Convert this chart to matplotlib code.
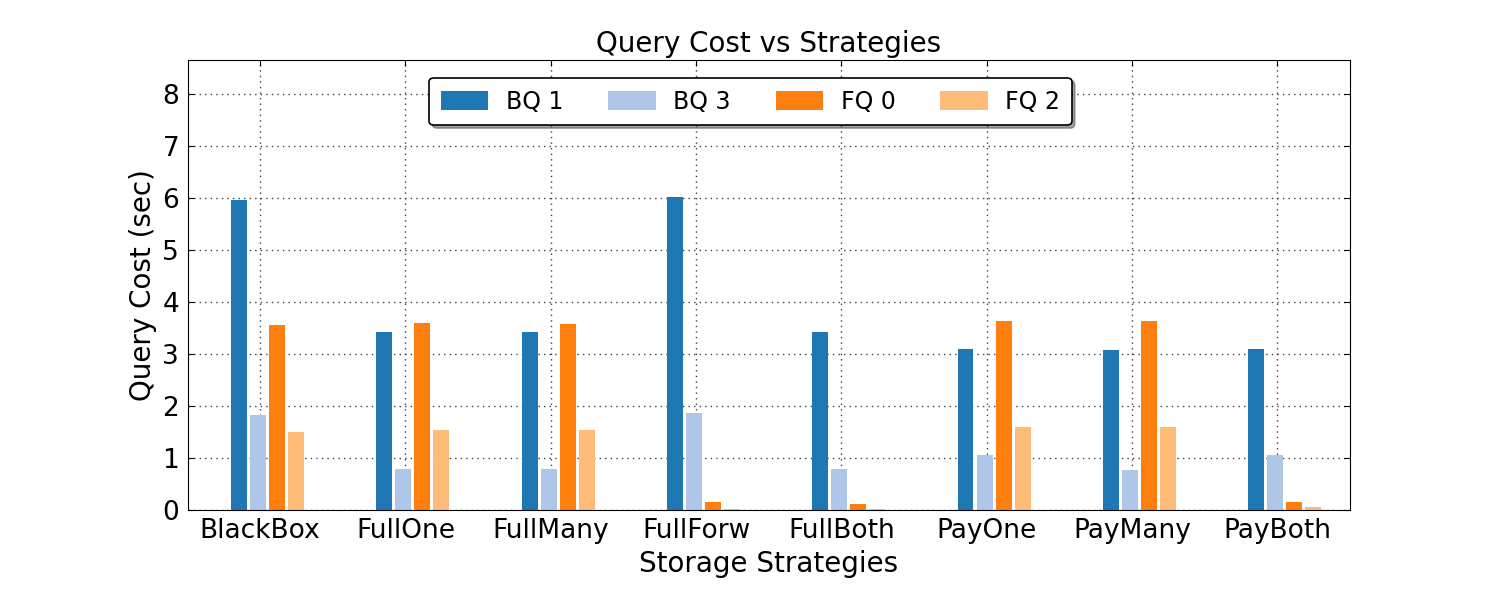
import numpy as np
import matplotlib.pyplot as plt

strategies = ['BlackBox', 'FullOne', 'FullMany', 'FullForw', 'FullBoth', 'PayOne', 'PayMany', 'PayBoth']
series = ['BQ 1', 'BQ 3', 'FQ 0', 'FQ 2']
bq1 = [5.96, 3.42, 3.42, 6.02, 3.42, 3.10, 3.08, 3.10]
bq3 = [1.83, 0.79, 0.79, 1.87, 0.79, 1.06, 0.77, 1.06]
fq0 = [3.56, 3.60, 3.58, 0.16, 0.12, 3.64, 3.64, 0.16]
fq2 = [1.50, 1.54, 1.54, 0.01, 0.02, 1.60, 1.60, 0.06]
colors = ['#1f77b4', '#aec7e8', '#ff7f0e', '#ffbb78']

fig = plt.figure(figsize=(15, 6), dpi=100)
ax = fig.add_axes([0.125, 0.15, 0.775, 0.75])

x = np.arange(len(strategies))
w = 0.131
for i, (vals, lab) in enumerate(zip([bq1, bq3, fq0, fq2], series)):
    ax.bar(x + (i - 1) * w - 0.015, vals, width=0.11, color=colors[i],
           label=lab, linewidth=0, zorder=2)

ax.set_xlim(-0.5, 7.5)
ax.set_ylim(0, 8.66)
ax.set_xticks(x)
ax.set_xticklabels(strategies)
ax.set_yticks(range(0, 9))
ax.tick_params(direction='in', top=True, right=True, labelsize=19, length=4, pad=6)
ax.grid(True, linestyle=(0, (1, 3)), color='0.25', linewidth=1.0, zorder=0)
ax.set_axisbelow(True)

ax.set_title('Query Cost vs Strategies', fontsize=20)
ax.set_xlabel('Storage Strategies', fontsize=20)
ax.set_ylabel('Query Cost (sec)', fontsize=20)

leg = ax.legend(loc='upper center', bbox_to_anchor=(0.4845, 1.0), ncol=4, fontsize=17,
                shadow=True, fancybox=True, handlelength=2.0, handleheight=0.9,
                handletextpad=0.75, columnspacing=1.9,
                borderaxespad=0.75, borderpad=0.5, framealpha=1)
leg.get_frame().set_edgecolor('black')
leg.get_frame().set_linewidth(1.2)

fig.savefig('out.png')
